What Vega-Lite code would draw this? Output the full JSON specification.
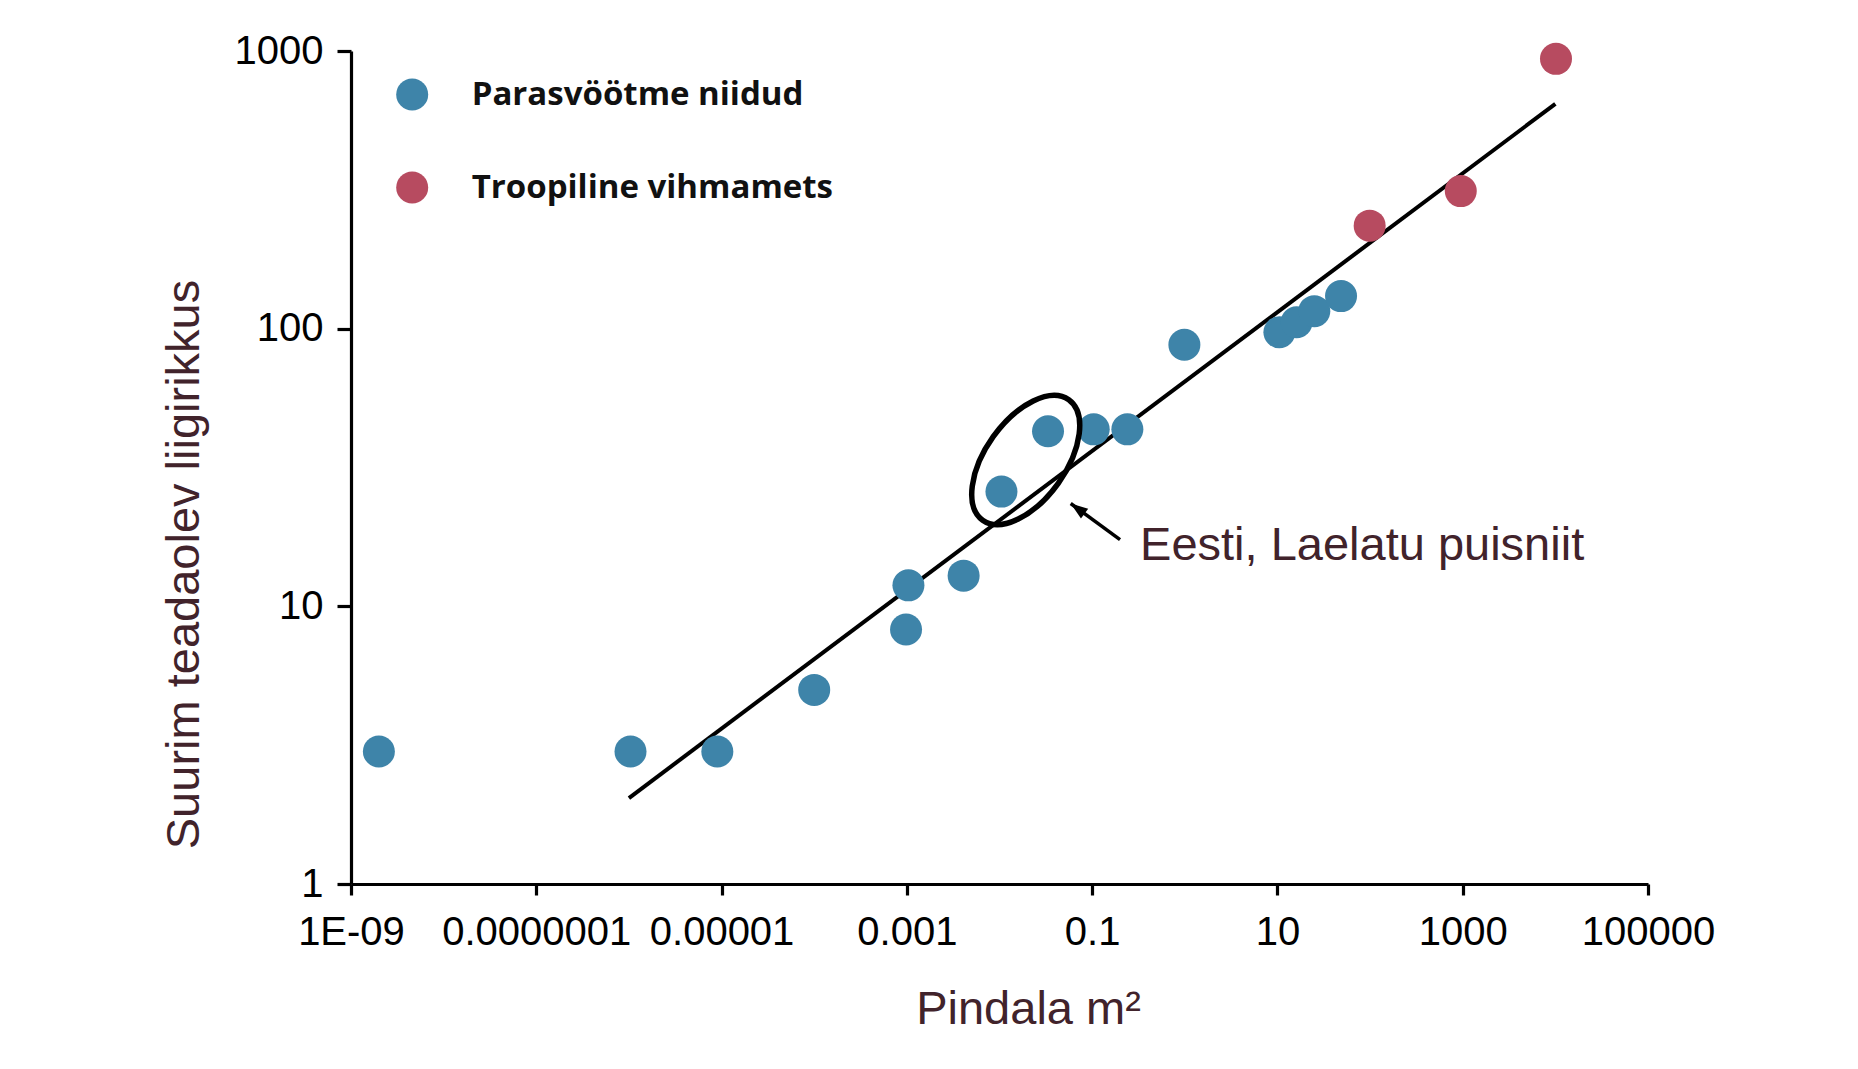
{
  "$schema": "https://vega.github.io/schema/vega-lite/v6.json",
  "width": 1297,
  "height": 833,
  "autosize": {"type": "none"},
  "padding": {"left": 351, "top": 51, "right": 210, "bottom": 185},
  "background": "white",
  "config": {"view": {"stroke": null}, "font": "Liberation Sans"},
  "datasets": {
    "points": [
      {"x": 2.0e-9, "y": 3.0, "group": "Parasvöötme niidud"},
      {"x": 1.04e-6, "y": 3.0, "group": "Parasvöötme niidud"},
      {"x": 9.0e-6, "y": 3.0, "group": "Parasvöötme niidud"},
      {"x": 1.0e-4, "y": 5.0, "group": "Parasvöötme niidud"},
      {"x": 9.8e-4, "y": 8.25, "group": "Parasvöötme niidud"},
      {"x": 1.04e-3, "y": 11.9, "group": "Parasvöötme niidud"},
      {"x": 4.1e-3, "y": 12.9, "group": "Parasvöötme niidud"},
      {"x": 0.0105, "y": 25.9, "group": "Parasvöötme niidud"},
      {"x": 0.0334, "y": 42.7, "group": "Parasvöötme niidud"},
      {"x": 0.104, "y": 43.4, "group": "Parasvöötme niidud"},
      {"x": 0.24, "y": 43.4, "group": "Parasvöötme niidud"},
      {"x": 0.99, "y": 87.5, "group": "Parasvöötme niidud"},
      {"x": 10.5, "y": 97.1, "group": "Parasvöötme niidud"},
      {"x": 16.1, "y": 105.5, "group": "Parasvöötme niidud"},
      {"x": 25.0, "y": 115.6, "group": "Parasvöötme niidud"},
      {"x": 48.6, "y": 131.0, "group": "Parasvöötme niidud"},
      {"x": 99, "y": 235, "group": "Troopiline vihmamets"},
      {"x": 953, "y": 313, "group": "Troopiline vihmamets"},
      {"x": 10160, "y": 937, "group": "Troopiline vihmamets"}
    ],
    "fit": [
      {"x": 1.0e-6, "y": 2.04},
      {"x": 10000, "y": 645}
    ],
    "ellipse": [{"x": 0.01919, "y": 33.65}],
    "arrow": [{"x": 0.2, "y": 17.4, "x2": 0.0587, "y2": 23.46}],
    "arrowhead": [{"x": 0.0587, "y": 23.46}],
    "label": [{"x": 0.3289, "y": 14.71, "text": "Eesti, Laelatu puisniit"}]
  },
  "encoding": {
    "x": {
      "field": "x",
      "type": "quantitative",
      "scale": {"type": "log", "domain": [1e-9, 100000], "nice": false, "zero": false},
      "axis": {
        "values": [1e-9, 1e-7, 1e-5, 0.001, 0.1, 10, 1000, 100000],
        "labelExpr": "datum.value < 1e-8 ? '1E-09' : datum.value < 1e-6 ? '0.0000001' : datum.value < 1e-4 ? '0.00001' : datum.value < 0.01 ? '0.001' : datum.value < 1 ? '0.1' : datum.value < 100 ? '10' : datum.value < 10000 ? '1000' : '100000'",
        "title": "Pindala m²",
        "grid": false,
        "domainColor": "black",
        "domainWidth": 3.2,
        "tickColor": "black",
        "tickWidth": 3.2,
        "tickSize": 11,
        "labelFont": "Liberation Sans",
        "labelFontSize": 40,
        "labelColor": "black",
        "labelPadding": 17,
        "labelLimit": 0,
        "labelFlush": false,
        "labelOverlap": false,
        "titleFont": "Liberation Sans",
        "titleFontSize": 47,
        "titleFontWeight": "normal",
        "titleColor": "#41232B",
        "titleX": 677,
        "titleY": 139.5,
        "titleAlign": "center",
        "titleBaseline": "alphabetic",
        "titleLimit": 0
      }
    },
    "y": {
      "field": "y",
      "type": "quantitative",
      "scale": {"type": "log", "domain": [1, 1000], "nice": false, "zero": false},
      "axis": {
        "values": [1, 10, 100, 1000],
        "labelExpr": "datum.value < 5 ? '1' : datum.value < 50 ? '10' : datum.value < 500 ? '100' : '1000'",
        "title": "Suurim teadaolev liigirikkus",
        "grid": false,
        "domainColor": "black",
        "domainWidth": 3.2,
        "tickColor": "black",
        "tickWidth": 3.2,
        "tickSize": 14,
        "labelFont": "Liberation Sans",
        "labelFontSize": 40,
        "labelColor": "black",
        "labelPadding": 14,
        "labelLimit": 0,
        "labelFlush": false,
        "labelOverlap": false,
        "titleFont": "Liberation Sans",
        "titleFontSize": 47,
        "titleFontWeight": "normal",
        "titleColor": "#41232B",
        "titleX": -153,
        "titleY": 513,
        "titleAngle": 270,
        "titleAlign": "center",
        "titleBaseline": "alphabetic",
        "titleLimit": 0
      }
    }
  },
  "layer": [
    {
      "data": {"name": "fit"},
      "mark": {"type": "line", "stroke": "black", "strokeWidth": 4},
      "encoding": {}
    },
    {
      "data": {"name": "points"},
      "mark": {"type": "circle", "size": 1024, "opacity": 1, "stroke": null},
      "encoding": {
        "color": {
          "field": "group",
          "type": "nominal",
          "scale": {"domain": ["Parasvöötme niidud", "Troopiline vihmamets"], "range": ["#3E84A9", "#B74B60"]},
          "legend": {
            "orient": "none",
            "legendX": 44.7,
            "legendY": 27,
            "title": null,
            "padding": 0,
            "symbolType": "circle",
            "symbolSize": 1024,
            "symbolStrokeWidth": 0,
            "symbolOpacity": 1,
            "labelFont": "Open Sans",
            "labelFontSize": 33,
            "labelFontWeight": "bold",
            "labelColor": "#111111",
            "labelOffset": 43,
            "labelLimit": 0,
            "rowPadding": 59
          }
        }
      }
    },
    {
      "data": {"name": "ellipse"},
      "mark": {
        "type": "point",
        "shape": "M -1 0 A 1 0.5405 0 1 1 1 0 A 1 0.5405 0 1 1 -1 0 Z",
        "size": 21904,
        "angle": 305.6,
        "filled": false,
        "stroke": "black",
        "strokeWidth": 5.5,
        "opacity": 1
      }
    },
    {
      "data": {"name": "arrow"},
      "mark": {"type": "rule", "stroke": "black", "strokeWidth": 3.5},
      "encoding": {"x2": {"field": "x2"}, "y2": {"field": "y2"}}
    },
    {
      "data": {"name": "arrowhead"},
      "mark": {
        "type": "point",
        "shape": "M 0 0 L 1 2.8 L -1 2.8 Z",
        "size": 150,
        "angle": 306.1,
        "filled": true,
        "fill": "black",
        "strokeWidth": 0,
        "opacity": 1
      }
    },
    {
      "data": {"name": "label"},
      "mark": {
        "type": "text",
        "align": "left",
        "baseline": "alphabetic",
        "font": "Liberation Sans",
        "fontSize": 47,
        "fill": "#41232B"
      },
      "encoding": {"text": {"field": "text"}}
    }
  ]
}
